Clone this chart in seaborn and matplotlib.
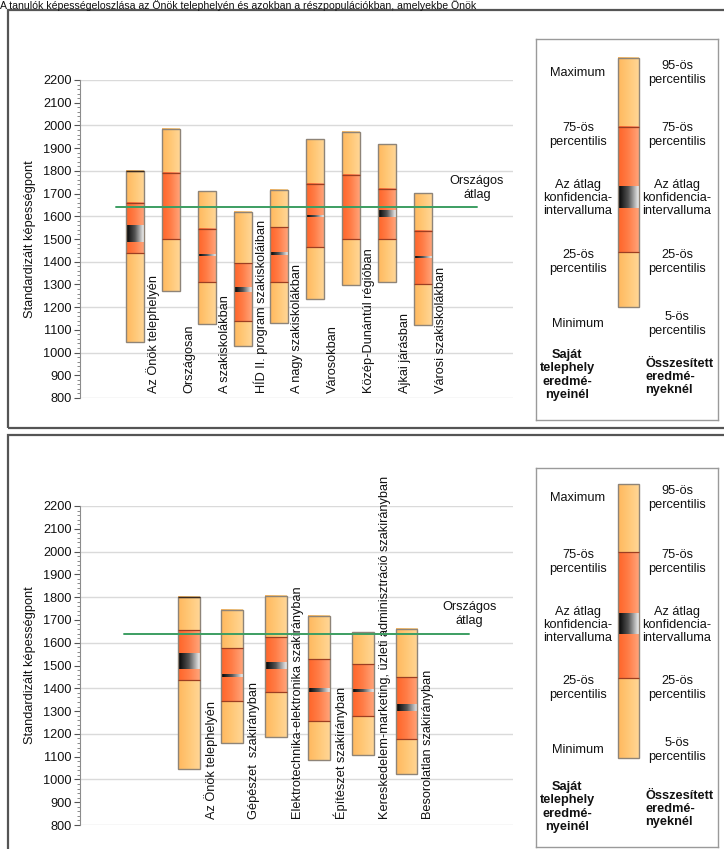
import numpy as np
import pandas as pd
import matplotlib
matplotlib.use("Agg")
import matplotlib.pyplot as plt
from matplotlib.colors import LinearSegmentedColormap
from matplotlib.patches import Rectangle
from matplotlib.ticker import MultipleLocator
import seaborn as sns

# ---------------- data ----------------
top_cats = ["Az Önök telephelyén", "Országosan", "A szakiskolákban",
            "HÍD II. program szakiskoláiban", "A nagy szakiskolákban",
            "Városokban", "Közép-Dunántúl régióban", "Ajkai járásban",
            "Városi szakiskolákban"]
top_min = [1045, 1271, 1127, 1027, 1130, 1238, 1297, 1312, 1123]
top_p25 = [1437, 1499, 1312, 1140, 1312, 1464, 1499, 1499, 1301]
top_ci_lo = [1485, 1638, 1424, 1266, 1428, 1599, 1637, 1596, 1417]
top_ci_hi = [1556, 1642, 1430, 1288, 1437, 1605, 1642, 1624, 1423]
top_p75 = [1658, 1790, 1546, 1395, 1552, 1744, 1781, 1722, 1537]
top_max = [1800, 1985, 1710, 1620, 1716, 1939, 1971, 1919, 1703]

bot_cats = ["Az Önök telephelyén", "Gépészet  szakirányban",
            "Elektrotechnika-elektronika szakirányban", "Építészet szakirányban",
            "Kereskedelem-marketing, üzleti adminisztráció szakirányban",
            "Besorolatlan szakirányban"]
bot_min = [1044, 1158, 1188, 1085, 1109, 1022]
bot_p25 = [1435, 1343, 1385, 1255, 1280, 1179]
bot_ci_lo = [1483, 1451, 1483, 1384, 1384, 1302]
bot_ci_hi = [1552, 1463, 1510, 1398, 1397, 1330]
bot_p75 = [1654, 1575, 1624, 1527, 1505, 1448]
bot_max = [1801, 1742, 1807, 1717, 1646, 1659]

national_avg = 1640
y_ticks = list(range(800, 2201, 100))

# ---------------- style ----------------
sns.set_theme(style="white")
plt.rcParams["font.family"] = ["Liberation Sans", "DejaVu Sans"]
FS = 9.2

W, H = 724, 849
fig = plt.figure(figsize=(W / 100, H / 100), dpi=100)

cm_outer = LinearSegmentedColormap.from_list("o", ["#FFB85E", "#FFC877", "#FFD696"])
cm_inner = LinearSegmentedColormap.from_list("i", ["#FF6428", "#FF7E48", "#FFA47A"])
cm_ci = LinearSegmentedColormap.from_list("c", ["#000000", "#555555", "#F2F2F2"])
grad = np.linspace(0, 1, 128).reshape(1, -1)
EDGE = "#8E8478"
SEG = "#9C3E22"


def fp(x, y):
    return x / W, 1 - y / H


def gbar(ax, x, lo, hi, w, cmap, z):
    ax.imshow(grad, extent=(x - w / 2, x + w / 2, lo, hi), aspect="auto",
              cmap=cmap, origin="lower", zorder=z, interpolation="bilinear")


def draw_panel(ax, cats, mn, p25, clo, chi, p75, mx, xlim, label_y):
    w = 0.5
    df = pd.DataFrame({"cat": cats, "min": mn, "p25": p25, "clo": clo,
                       "chi": chi, "p75": p75, "max": mx})
    for i, r in df.iterrows():
        gbar(ax, i, r["min"], r["max"], w, cm_outer, 2)
        gbar(ax, i, r["p25"], r["p75"], w, cm_inner, 3)
        gbar(ax, i, r["clo"], r["chi"], w, cm_ci, 4)
        ax.bar(i, r["max"] - r["min"], bottom=r["min"], width=w, fill=False,
               edgecolor=EDGE, linewidth=1.0, zorder=5)
        ax.hlines([r["p25"], r["p75"]], i - w / 2, i + w / 2, color=SEG,
                  linewidth=0.9, zorder=5)
        if i == 0:
            ax.hlines([r["max"]], i - w / 2, i + w / 2, color="#3a2a20",
                      linewidth=1.0, zorder=6)
        ax.text(i + 0.5, label_y, r["cat"], rotation=90, ha="center",
                va="bottom", fontsize=FS, color="#111111", zorder=7,
                clip_on=False)
    x0, x1 = xlim
    sns.lineplot(x=[x0 + 1, x1 - 1], y=[national_avg, national_avg], ax=ax,
                 color="#3C9E62", linewidth=1.4, zorder=8)
    ax.text(x1 - 1, 1725, "Országos\nátlag", ha="center", va="center",
            fontsize=FS, color="#111111", linespacing=1.25)
    for v in range(800, 2201, 200):
        ax.axhline(v, color="#DADADA", linewidth=1.0, zorder=1)
    ax.set_xlim(*xlim)
    ax.set_ylim(800, 2200)
    ax.set_yticks(y_ticks)
    ax.set_yticklabels([str(t) for t in y_ticks], fontsize=FS, color="#111111")
    ax.yaxis.set_minor_locator(MultipleLocator(20))
    ax.set_xticks([])
    for s in ["top", "right", "bottom"]:
        ax.spines[s].set_visible(False)
    ax.spines["left"].set_color("#8C8C8C")
    ax.spines["left"].set_linewidth(0.8)
    ax.tick_params(axis="y", which="major", left=True, length=4, width=0.8,
                   color="#555555", pad=2)
    ax.tick_params(axis="y", which="minor", left=True, length=2, width=0.6,
                   color="#777777")
    ax.set_ylabel("Standardizált képességpont", fontsize=FS, color="#111111")
    ax.yaxis.set_label_coords(-0.102, 0.5)
    ax.set_facecolor("none")


def draw_legend(box, bar, p75y, ci, p25y, txt_y, bold_y):
    bx0, by0, bx1, by1 = box
    lax = fig.add_axes([bx0 / W, 1 - by1 / H, (bx1 - bx0) / W, (by1 - by0) / H])
    lax.set_xlim(bx0, bx1)
    lax.set_ylim(by1, by0)
    lax.set_xticks([]); lax.set_yticks([])
    for s in lax.spines.values():
        s.set_color("#9A9A9A"); s.set_linewidth(1.0)
    x0, x1, ytop, ybot = bar
    lax.imshow(grad, extent=(x0, x1, ybot, ytop), aspect="auto", cmap=cm_outer,
               zorder=2, interpolation="bilinear")
    lax.imshow(grad, extent=(x0, x1, p25y, p75y), aspect="auto", cmap=cm_inner,
               zorder=3, interpolation="bilinear")
    lax.imshow(grad, extent=(x0, x1, ci[1], ci[0]), aspect="auto", cmap=cm_ci,
               zorder=4, interpolation="bilinear")
    lax.add_patch(Rectangle((x0, ytop), x1 - x0, ybot - ytop, fill=False,
                            edgecolor=EDGE, linewidth=1.0, zorder=5))
    lax.hlines([p75y, p25y], x0, x1, color=SEG, linewidth=0.9, zorder=5)
    lax.set_xlim(bx0, bx1)
    lax.set_ylim(by1, by0)
    left = ["Maximum", "75-ös\npercentilis", "Az átlag\nkonfidencia-\nintervalluma",
            "25-ös\npercentilis", "Minimum"]
    right = ["95-ös\npercentilis", "75-ös\npercentilis",
             "Az átlag\nkonfidencia-\nintervalluma", "25-ös\npercentilis",
             "5-ös\npercentilis"]
    for t, y in zip(left, txt_y):
        lax.text(578, y, t, ha="center", va="center", fontsize=FS,
                 color="#111111", linespacing=1.15)
    for t, y in zip(right, txt_y):
        lax.text(677, y, t, ha="center", va="center", fontsize=FS,
                 color="#111111", linespacing=1.15)
    lax.text(567, bold_y, "Saját\ntelephely\neredmé-\nnyeinél", ha="center",
             va="center", fontsize=FS, fontweight="bold", color="#111111",
             linespacing=1.15)
    lax.text(645, bold_y + 2, "Összesített\neredmé-\nnyeknél", ha="left",
             va="center", fontsize=FS, fontweight="bold", color="#111111",
             linespacing=1.15)


# panel frames
for (y0, y1) in [(10, 428), (435, 860)]:
    fig.patches.append(Rectangle(fp(8, y1), (740 - 8) / W, (y1 - y0) / H,
                                 transform=fig.transFigure, fill=False,
                                 edgecolor="#555555", linewidth=1.6))

# title line at the very top
fig.text(0.0, 1 - 0.5 / H,
         "A tanulók képességeloszlása az Önök telephelyén és azokban a részpopulációkban, amelyekbe Önök",
         ha="left", va="top", fontsize=7.6, color="#111111")

ax1 = fig.add_axes([80 / W, 1 - 398 / H, 433 / W, 318 / H])
draw_panel(ax1, top_cats, top_min, top_p25, top_ci_lo, top_ci_hi, top_p75,
           top_max, (-1.53, 10.5), 820)

ax2 = fig.add_axes([80 / W, 1 - 825 / H, 433 / W, 319 / H])
draw_panel(ax2, bot_cats, bot_min, bot_p25, bot_ci_lo, bot_ci_hi, bot_p75,
           bot_max, (-2.5, 7.45), 828)

draw_legend((536, 39, 718, 420), (618, 639, 58, 307), 127, (187, 208), 252,
            [73, 135, 198, 262, 324], 375)
draw_legend((536, 468, 718, 847), (618, 639, 484, 758), 552, (613, 634), 678,
            [498, 562, 625, 688, 750], 807)

fig.savefig("out.png", dpi=100)
